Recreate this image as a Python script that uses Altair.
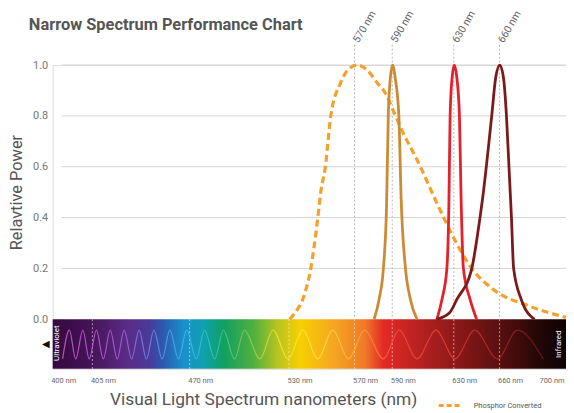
import altair as alt
import pandas as pd

# ---------------- data ----------------
# axis break points (nm)
tick_nm = [400, 405, 470, 530, 570, 590, 630, 660, 700]
peak_nm = [570, 590, 630, 660]
peak_labels = ["570 nm", "590 nm", "630 nm", "660 nm"]
bar_line_nm = [405, 470, 530, 570, 590, 630, 660]
y_ticks = [0.0, 0.2, 0.4, 0.6, 0.8, 1.0]
grid_vals = [0.2, 0.4, 0.6, 0.8, 1.0]

# phosphor converted (dashed)
phosphor_nm = [530.4, 534.2, 538.5, 543.3, 547.6, 549.4, 552.2, 555.5, 561.5, 565.8,
               571.6, 576.8, 582.0, 586.3, 590.0, 595.4, 608.3, 618.0, 623.4, 641.8,
               656.0, 677.9, 700.0]
phosphor_val = [0.0, 0.03, 0.08, 0.2, 0.4, 0.5, 0.6, 0.8, 0.93, 0.98,
                1.0, 0.98, 0.93, 0.89, 0.83, 0.755, 0.6, 0.47, 0.4, 0.2,
                0.117, 0.052, 0.007]

# 590 nm LED
led590_nm = [580.4, 583.0, 585.3, 587.0, 587.9, 589.0, 590.2, 591.9, 594.3, 595.8, 598.6, 601.8, 606.1]
led590_val = [0.0, 0.078, 0.2, 0.45, 0.8, 0.95, 1.0, 0.95, 0.8, 0.47, 0.2, 0.078, 0.0]

# 630 nm LED
led630_nm = [619.0, 622.3, 625.5, 626.8, 627.6, 628.9, 630.3, 632.0, 633.7, 634.8, 636.3, 640.7, 645.0]
led630_val = [0.0, 0.078, 0.2, 0.45, 0.8, 0.95, 1.0, 0.95, 0.8, 0.47, 0.2, 0.078, 0.0]

# 660 nm LED
led660_nm = [618.6, 627.4, 632.0, 641.8, 647.2, 648.8, 654.9, 657.5, 660.2, 662.4, 664.2,
             665.7, 667.2, 668.5, 673.1, 681.1]
led660_val = [0.0, 0.027, 0.078, 0.2, 0.4, 0.47, 0.8, 0.95, 1.0, 0.95, 0.8,
              0.6, 0.4, 0.2, 0.078, 0.0]

# decorative wave inside the spectrum band (troughs / crests)
wave_nm = [401.25, 402.1, 402.9, 403.8, 404.6, 407.7, 412.3, 416.9, 421.6, 426.2,
           431.2, 436.2, 441.1, 446.1, 451.6, 456.7, 462.5, 468.0, 474.0, 479.0,
           485.1, 490.4, 497.1, 503.0, 512.4, 520.4, 529.4, 538.5, 547.6, 556.7,
           566.4, 575.3, 585.3, 594.5, 606.1, 618.4, 630.7, 643.7, 658.7, 670.7, 686.3]
wave_val = [-0.156, -0.043, -0.156, -0.043, -0.156, -0.043, -0.156, -0.043, -0.156, -0.043,
            -0.156, -0.043, -0.156, -0.043, -0.156, -0.043, -0.156, -0.043, -0.156, -0.043,
            -0.156, -0.043, -0.156, -0.043, -0.156, -0.043, -0.156, -0.043, -0.156, -0.043,
            -0.156, -0.043, -0.156, -0.043, -0.156, -0.043, -0.156, -0.043, -0.156, -0.043, -0.156]

# spectrum band extent
band_start, band_end = [400], [700]
band_top, band_bottom = [0.0], [-0.195]
rule_top = 1.08

# ---------------- tables ----------------
df_ph = pd.DataFrame({"nm": phosphor_nm, "v": phosphor_val, "series": "Phosphor Converted"})
df_590 = pd.DataFrame({"nm": led590_nm, "v": led590_val})
df_630 = pd.DataFrame({"nm": led630_nm, "v": led630_val})
df_660 = pd.DataFrame({"nm": led660_nm, "v": led660_val})
df_wave = pd.DataFrame({"nm": wave_nm, "v": wave_val})
df_band = pd.DataFrame({"nm": band_start, "nm2": band_end, "v": band_top, "v2": band_bottom})
df_peaks = pd.DataFrame({"nm": peak_nm, "label": peak_labels, "v": [rule_top] * 4, "v2": [0.0] * 4})
df_bar_lines = pd.DataFrame({"nm": bar_line_nm, "v": [0.0] * len(bar_line_nm),
                             "v2": [band_bottom[0]] * len(bar_line_nm)})
df_grid = pd.DataFrame({"v": grid_vals})
df_side = pd.DataFrame({"nm": [400.6, 695.8], "v": [-0.094, -0.098], "label": ["Ultraviolet", "Infrared"]})
df_arrow = pd.DataFrame({"nm": [400], "v": [-0.097], "label": ["◀"]})

FONT = "Roboto"
W, H = 517, 306

xscale = alt.Scale(domain=tick_nm, range=[0, 40, 138, 238, 304, 342, 404, 450, 517],
                   zero=False, nice=False)
yscale = alt.Scale(domain=[-0.195, 1.0], zero=False, nice=False)

xaxis = alt.Axis(values=tick_nm, labelExpr="datum.value + ' nm'", domain=False, ticks=False,
                 grid=False, labelFontSize=7.5, labelColor="#666", labelFont=FONT,
                 labelPadding=8, labelOffset=-2, labelOverlap=False, labelFlush=False,
                 labelBound=False,
                 labelAlign={"condition": {"test": "datum.value == 700", "value": "right"},
                             "value": "left"},
                 titleX=212, titleY=36, titleBaseline="alphabetic", titleFontSize=17.5,
                 titleColor="#555", titleFontWeight="normal", titleFont=FONT)
yaxis = alt.Axis(values=y_ticks, format=".1f", domain=False, ticks=False, grid=False,
                 labelFontSize=11, labelColor="#777", labelFont=FONT, labelPadding=5,
                 titleX=-28, titleY=128, titleFontSize=16.5, titleColor="#555",
                 titleFontWeight="normal", titleFont=FONT)
XT = "Visual Light Spectrum nanometers (nm)"
YT = "Relavtive Power"


def X(f="nm"):
    return alt.X(f"{f}:Q", scale=xscale, axis=xaxis, title=XT)


def Y(f="v"):
    return alt.Y(f"{f}:Q", scale=yscale, axis=yaxis, title=YT)


grid = alt.Chart(df_grid).mark_rule(color="#d4d4d4", strokeWidth=1).encode(
    x=alt.value(9), x2=alt.value(W), y=Y())

peak_rules = alt.Chart(df_peaks).mark_rule(color="#b8b8b8", strokeDash=[2, 2], strokeWidth=1).encode(
    x=X(), y=Y(), y2="v2:Q")

band_grad = alt.Gradient(
    gradient="linear", x1=0, x2=1, y1=0, y2=0,
    stops=[
        alt.GradientStop(offset=0.0, color="#35093f"),
        alt.GradientStop(offset=0.077, color="#451458"),
        alt.GradientStop(offset=0.139, color="#5a2a82"),
        alt.GradientStop(offset=0.188, color="#4a3a9a"),
        alt.GradientStop(offset=0.217, color="#2a5cb0"),
        alt.GradientStop(offset=0.255, color="#1a90cc"),
        alt.GradientStop(offset=0.294, color="#10a0b0"),
        alt.GradientStop(offset=0.333, color="#10a060"),
        alt.GradientStop(offset=0.391, color="#50b040"),
        alt.GradientStop(offset=0.439, color="#b8c420"),
        alt.GradientStop(offset=0.482, color="#f8d000"),
        alt.GradientStop(offset=0.545, color="#f5a820"),
        alt.GradientStop(offset=0.609, color="#f07828"),
        alt.GradientStop(offset=0.644, color="#e42a26"),
        alt.GradientStop(offset=0.725, color="#b02020"),
        alt.GradientStop(offset=0.791, color="#8a1818"),
        alt.GradientStop(offset=0.868, color="#5a1010"),
        alt.GradientStop(offset=0.952, color="#200606"),
        alt.GradientStop(offset=1.0, color="#0c0303"),
    ])
band = alt.Chart(df_band).mark_rect(color=band_grad).encode(
    x=X(), x2="nm2:Q", y=Y(), y2="v2:Q")

bar_lines = alt.Chart(df_bar_lines).mark_rule(color="white", opacity=0.55, strokeDash=[2, 2],
                                              strokeWidth=1).encode(x=X(), y=Y(), y2="v2:Q")

wave_grad = alt.Gradient(
    gradient="linear", x1=0, x2=1, y1=0, y2=0,
    stops=[
        alt.GradientStop(offset=0.0, color="#c858c8"),
        alt.GradientStop(offset=0.118, color="#a858d8"),
        alt.GradientStop(offset=0.2, color="#5890e8"),
        alt.GradientStop(offset=0.262, color="#38b8f0"),
        alt.GradientStop(offset=0.324, color="#38c0a8"),
        alt.GradientStop(offset=0.386, color="#80c850"),
        alt.GradientStop(offset=0.448, color="#f0e828"),
        alt.GradientStop(offset=0.531, color="#ffe448"),
        alt.GradientStop(offset=0.614, color="#f8a838"),
        alt.GradientStop(offset=0.696, color="#ee4838"),
        alt.GradientStop(offset=0.8, color="#dc3c2c"),
        alt.GradientStop(offset=0.903, color="#a82424"),
        alt.GradientStop(offset=1.0, color="#681414"),
    ])
wave = alt.Chart(df_wave).mark_line(stroke=wave_grad, strokeWidth=1.2, opacity=0.9,
                                    interpolate="monotone").encode(x=X(), y=Y())

side_text = alt.Chart(df_side).mark_text(angle=270, color="white", fontSize=8, font=FONT,
                                         align="center", baseline="middle").encode(
    x=X(), y=Y(), text="label:N")

arrow = alt.Chart(df_arrow).mark_text(color="#111", fontSize=10, dx=-7, align="center",
                                      baseline="middle", font="DejaVu Sans").encode(
    x=X(), y=Y(), text="label:N")

phosphor = alt.Chart(df_ph).mark_line(strokeDash=[7, 4], strokeWidth=3.2,
                                      interpolate="monotone").encode(
    x=X(), y=Y(),
    color=alt.Color("series:N",
                    scale=alt.Scale(domain=["Phosphor Converted"], range=["#f5a02a"]),
                    legend=alt.Legend(orient="none", legendX=387, legendY=330, title=None,
                                      symbolType="stroke", symbolDash=[5, 3],
                                      symbolStrokeWidth=3, symbolSize=500,
                                      labelFontSize=7.5, labelColor="#555", labelFont=FONT,
                                      padding=0, labelOffset=11)))

c590 = alt.Chart(df_590).mark_line(color="#cc8a34", strokeWidth=2.8, interpolate="monotone").encode(x=X(), y=Y())
c630 = alt.Chart(df_630).mark_line(color="#e4202a", strokeWidth=2.8, interpolate="monotone").encode(x=X(), y=Y())
c660 = alt.Chart(df_660).mark_line(color="#7a1a1a", strokeWidth=2.8, interpolate="monotone").encode(x=X(), y=Y())

top_labels = alt.Chart(df_peaks).mark_text(angle=300, align="left", baseline="middle", dx=3,
                                           fontSize=10.5, color="#666", font=FONT).encode(
    x=X(), y=Y(), text="label:N")

chart = alt.layer(
    grid, peak_rules, band, bar_lines, wave, side_text, arrow,
    phosphor, c590, c630, c660, top_labels
).properties(
    width=W, height=H,
    autosize=alt.AutoSizeParams(type="none"),
    padding={"left": 45, "top": 56, "right": 0, "bottom": 41},
    title=alt.TitleParams(text="Narrow Spectrum Performance Chart", anchor="start",
                          frame="group", dx=-24, offset=-24, fontSize=16.5,
                          fontWeight="bold", color="#555", font=FONT),
).configure_view(stroke=None).configure(background="white")

chart.save("out.html", embed_options={"renderer": "svg", "actions": False})
